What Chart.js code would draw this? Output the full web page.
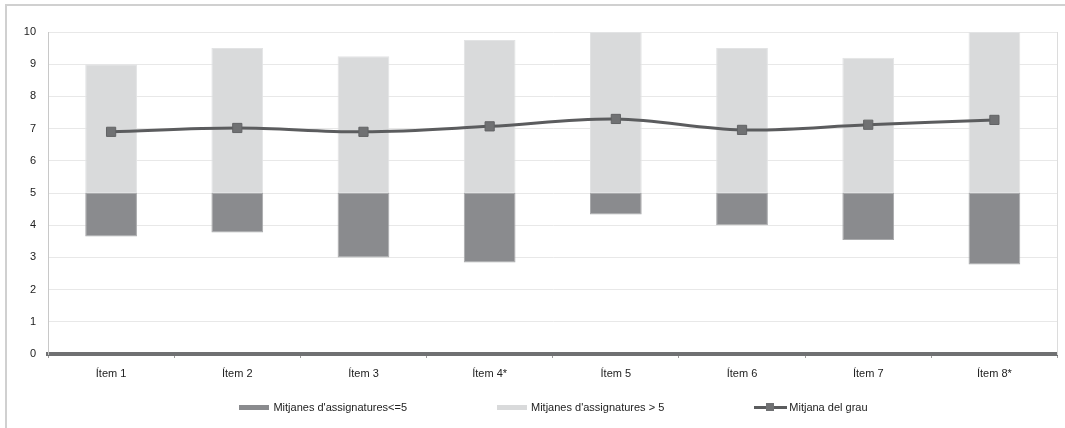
<!DOCTYPE html>
<html>
<head>
<meta charset="utf-8">
<script src="https://cdn.jsdelivr.net/npm/chart.js@4"></script>
<style>
  body { margin: 0; background: #fff; font-family: "Liberation Sans", Arial, sans-serif; }
  #wrap { position: relative; width: 1065px; height: 428px; }
  #frame { position: absolute; left: 5px; top: 4px; right: 0; bottom: 0;
           border-top: 2px solid #d0d0d0; border-left: 2px solid #d0d0d0; }
  #legend { position: absolute; top: 401px; left: 48px; width: 1011px;
            display: flex; justify-content: center; gap: 90px; font-size: 11px; color: #222; }
  .item { display: flex; align-items: center; white-space: nowrap; }
  .sw { width: 30px; height: 5px; margin-right: 4px; }
  .ln { position: relative; width: 33px; height: 10px; margin-right: 2px; }
  .ln:before { content: ""; position: absolute; left: 0; right: 0; top: 4px; height: 3px; background: #5b5c5e; }
  .ln:after { content: ""; position: absolute; left: 12px; top: 1px; width: 8px; height: 8px; background: #707173; }
</style>
</head>
<body>
<div id="wrap">
  <div id="frame"></div>
  <canvas id="chart" width="1065" height="428"></canvas>
  <div id="legend">
    <div class="item"><span class="sw" style="background:#8a8b8e"></span>Mitjanes d'assignatures&lt;=5</div>
    <div class="item"><span class="sw" style="background:#d9dadb"></span>Mitjanes d'assignatures &gt; 5</div>
    <div class="item"><span class="ln"></span>Mitjana del grau</div>
  </div>
</div>
<script>
const labels = ['Ítem 1', 'Ítem 2', 'Ítem 3', 'Ítem 4*', 'Ítem 5', 'Ítem 6', 'Ítem 7', 'Ítem 8*'];
const lowMeans = [3.65, 3.77, 3.0, 2.84, 4.33, 4.0, 3.54, 2.78];
const highMeans = [9.0, 9.5, 9.25, 9.75, 10.0, 9.5, 9.2, 10.0];
const degreeMean = [6.9, 7.02, 6.9, 7.07, 7.3, 6.96, 7.12, 7.27];
const threshold = 5;

const ctx = document.getElementById('chart').getContext('2d');
new Chart(ctx, {
    type: 'bar',
    data: {
        labels: labels,
        datasets: [
            {
                type: 'line',
                label: 'Mitjana del grau',
                data: degreeMean,
                borderColor: '#5b5c5e',
                borderWidth: 3,
                tension: 0.35,
                pointStyle: 'rect',
                pointRadius: 6.5,
                pointBackgroundColor: '#707173',
                pointBorderColor: '#626365',
                pointBorderWidth: 1,
                order: 0
            },
            {
                label: "Mitjanes d'assignatures<=5",
                data: lowMeans.map(v => [v, threshold]),
                backgroundColor: '#8a8b8e',
                borderColor: '#a9aaac',
                borderWidth: 1,
                borderSkipped: false,
                grouped: false,
                order: 1
            },
            {
                label: "Mitjanes d'assignatures > 5",
                data: highMeans.map(v => [threshold, v]),
                backgroundColor: '#d9dadb',
                borderColor: '#e2e3e4',
                borderWidth: 1,
                borderSkipped: false,
                grouped: false,
                order: 2
            }
        ]
    },
    options: {
        responsive: false,
        animation: false,
        categoryPercentage: 1,
        barPercentage: 0.41,
        layout: { padding: { left: 0, right: 6, top: 32, bottom: 44 } },
        plugins: { legend: { display: false }, tooltip: { enabled: false } },
        scales: {
            x: {
                offset: true,
                grid: { offset: true, drawOnChartArea: false, drawTicks: true, tickLength: 4, color: '#9a9a9a' },
                border: { color: '#6f7072', width: 4 },
                ticks: { color: '#222', font: { family: 'Liberation Sans', size: 11 }, padding: 9 },
                afterFit: s => { s.height = 30; }
            },
            y: {
                min: 0, max: 10,
                ticks: { stepSize: 1, color: '#222', font: { family: 'Liberation Sans', size: 11 }, padding: 12 },
                grid: { color: '#e8e8e8', drawTicks: false },
                border: { color: '#c8c8c8', width: 1 },
                afterFit: s => { s.width = 48; }
            },
            y2: {
                position: 'right',
                min: 0, max: 10,
                ticks: { display: false },
                grid: { display: false },
                border: { display: true, color: '#dcdcdc', width: 1 },
                afterFit: s => { s.width = 0; }
            }
        }
    }
});
</script>
</body>
</html>
